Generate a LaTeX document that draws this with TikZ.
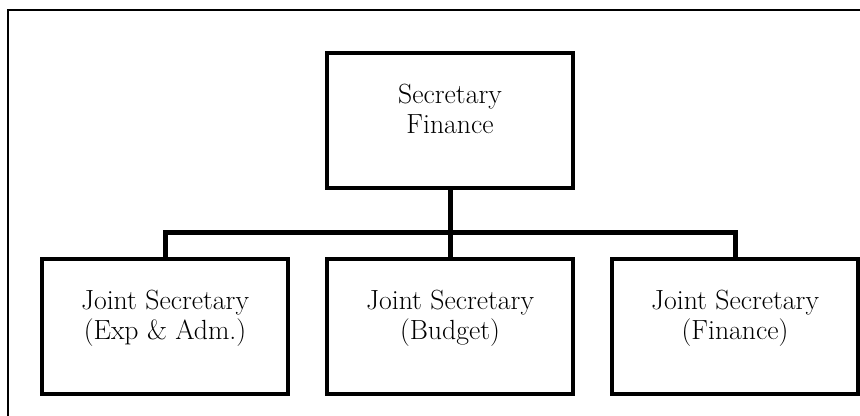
\documentclass[tikz,border=0pt]{standalone}
\usepackage{tikz}

\begin{document}
\begin{tikzpicture}[x=0.75pt, y=-0.75pt,
post/.style={draw=black, fill=white, line width=3pt, minimum width=184.5pt,
minimum height=101.5pt, inner sep=0pt, align=center, text depth=17pt,
font={\fontsize{20.8}{22.5}\selectfont}},
link/.style={draw=black, line width=3.75pt}]

\useasboundingbox (0,0) rectangle (860,416);
\draw [line width=2.2pt] (860,10) -- (8,10) -- (8,416);

\node [post] (secy) at (450, 120.5) {Secretary\\Finance};

\node [post] (js-exp) at (165, 326.5) {Joint Secretary\\(Exp \& Adm.)};
\node [post] (js-budget) at (450, 326.5) {Joint Secretary\\(Budget)};
\node [post] (js-fin) at (735, 326.5) {Joint Secretary\\(Finance)};

\coordinate (bus) at (450, 233);
\draw [link] (secy.south) -- (js-budget.north);
\draw [link] (js-exp.north) -- (js-exp.north |- bus) -- (js-fin.north |- bus) -- (js-fin.north);

\end{tikzpicture}
\end{document}
